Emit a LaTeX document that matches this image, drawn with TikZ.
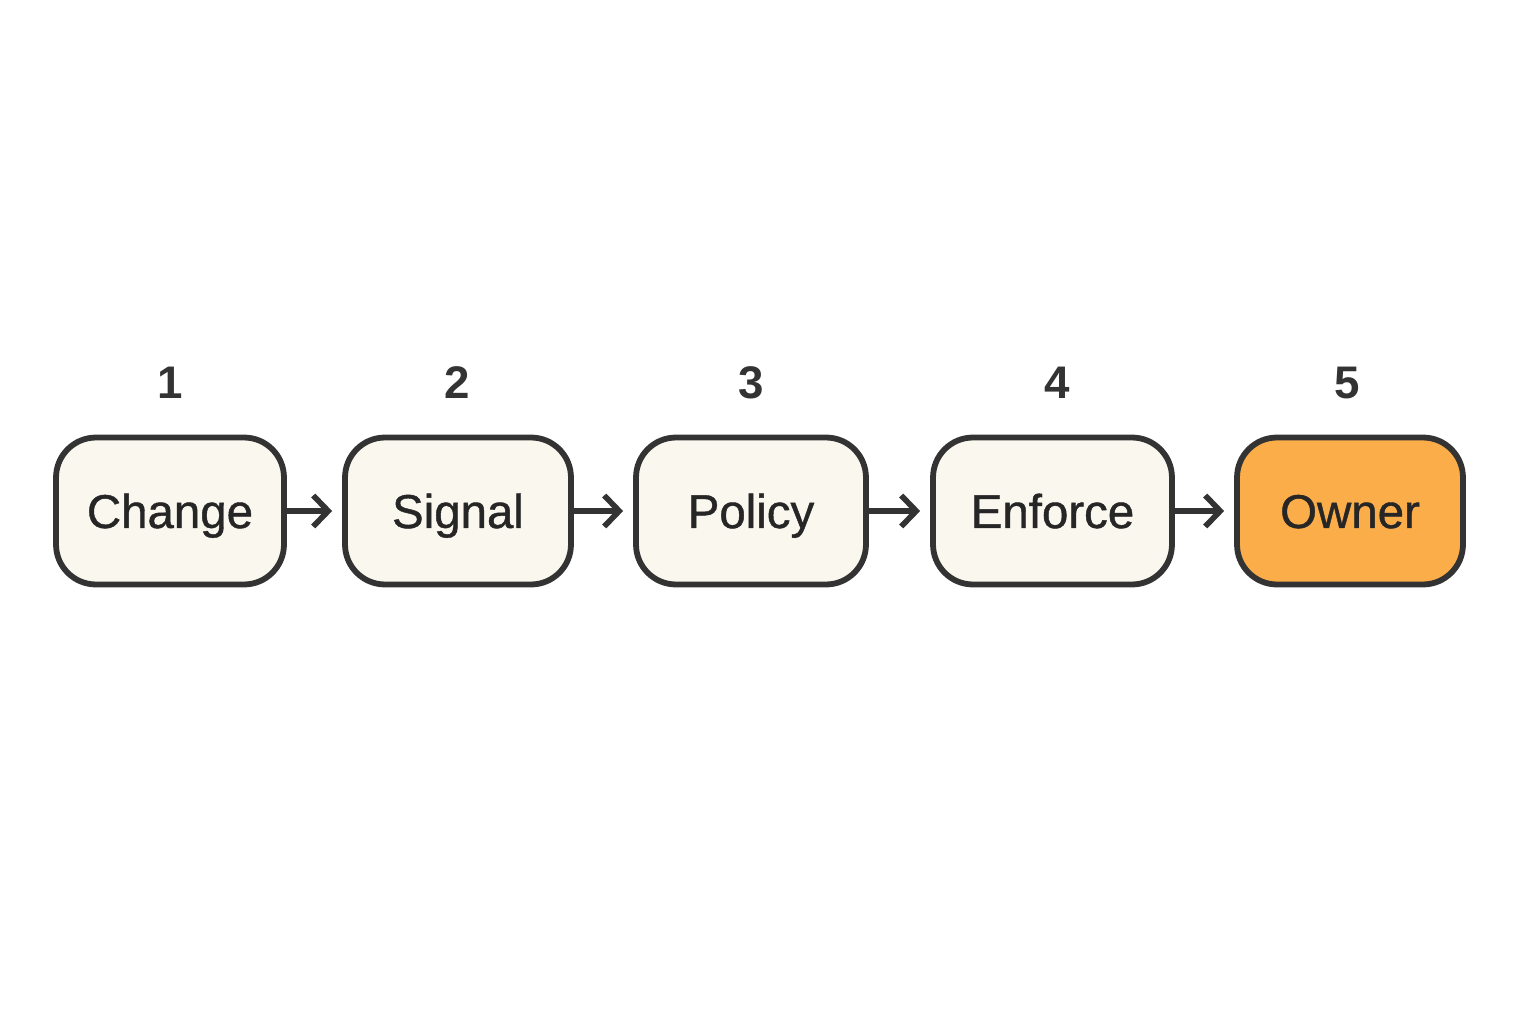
\documentclass[tikz,border=0pt]{standalone}
\usepackage{fontspec}
\setmainfont{Liberation Sans}
\newfontfamily\boxfont{Liberation Sans}[FakeBold=0.9]
\usetikzlibrary{arrows.meta}
\definecolor{edge}{HTML}{333333}
\definecolor{cream}{HTML}{FAF7EE}
\definecolor{orng}{HTML}{FBAD4A}
\tikzset{
  stage/.style={draw=edge, line width=3.3pt, fill=cream, rounded corners=0.8cm,
    minimum height=2.94cm, inner sep=0pt, text height=0.68cm, text depth=0pt,
    font=\boxfont\fontsize{27}{32}\selectfont, text=black!85},
  num/.style={font=\bfseries\fontsize{26}{30}\selectfont, text=edge},
  conn/.style={draw=edge, line width=3.2pt, -{Straight Barb[length=0.3cm, width=0.62cm, line width=3.2pt]}, shorten >=0.2cm}
}
\begin{document}
\begin{tikzpicture}[x=0.02cm, y=-0.02cm]
\useasboundingbox (0,0) rectangle (1536,1024);
\fill[white] (0,0) rectangle (1536,1024);
\node[stage, minimum width=4.56cm] (a) at (170,511) {Change};
\node[stage, minimum width=4.52cm] (b) at (458,511) {Signal};
\node[stage, minimum width=4.60cm] (c) at (751,511) {Policy};
\node[stage, minimum width=4.78cm] (d) at (1052.5,511) {Enforce};
\node[stage, minimum width=4.52cm, fill=orng] (e) at (1350,511) {Owner};
\node[num] (n1) at (170,383) {1};
\node[num] (n2) at (457,383) {2};
\node[num] (n3) at (751,383) {3};
\node[num] (n4) at (1057,383) {4};
\node[num] (n5) at (1347,383) {5};
\draw[conn] (a) -- (b);
\draw[conn] (b) -- (c);
\draw[conn] (c) -- (d);
\draw[conn] (d) -- (e);
\end{tikzpicture}
\end{document}
